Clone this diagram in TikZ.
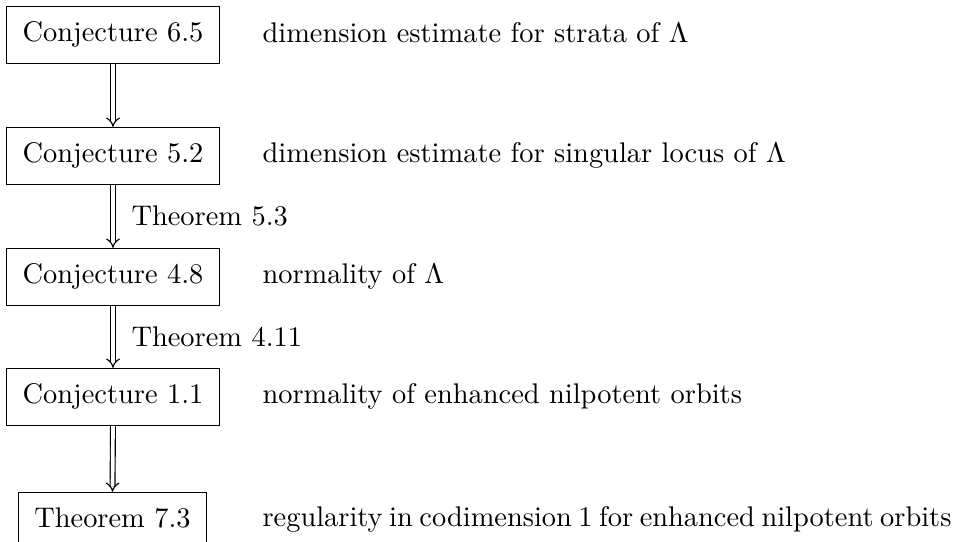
\documentclass[tikz,border=0pt]{standalone}
\usetikzlibrary{arrows.meta}
\begin{document}
\begin{tikzpicture}[x=0.352pt,y=-0.352pt,
  box/.style={draw,line width=0.4pt,inner xsep=5.6pt,inner ysep=5.5pt,text height=7pt,text depth=2pt,anchor=base},
  desc/.style={inner sep=0pt,anchor=base west},
  lbl/.style={inner sep=0pt,anchor=west},
  imp/.style={double,double distance=1.3pt,line width=0.4pt,-{Implies}}]
\useasboundingbox (0,0) rectangle (954,542);
\node[box] (c65) at (113,42) {Conjecture 6.5};
\node[box] (c52) at (113,163) {Conjecture 5.2};
\node[box] (c48) at (113,284) {Conjecture 4.8};
\node[box] (c11) at (113,404) {Conjecture 1.1};
\node[box] (t73) at (112.5,528) {Theorem 7.3};
\node[desc] (d1) at (262,43) {dimension estimate for strata of $\Lambda$};
\node[desc] (d2) at (262,163) {dimension estimate for singular locus of $\Lambda$};
\node[desc] (d3) at (262,284) {normality of $\Lambda$};
\node[desc] (d4) at (262,404) {normality of enhanced nilpotent orbits};
\node[desc] (d5) at (262,527) {\spaceskip=2.3pt plus 1pt\relax regularity in codimension 1 for enhanced nilpotent orbits};
\draw[imp] (c65.south) -- (c52.north);
\draw[imp] (c52.south) -- node[lbl,xshift=18*0.352pt] (l1) {Theorem 5.3} (c48.north);
\draw[imp] (c48.south) -- node[lbl,xshift=18*0.352pt] (l2) {Theorem 4.11} (c11.north);
\draw[imp] (c11.south) -- (t73.north);
\end{tikzpicture}
\end{document}
